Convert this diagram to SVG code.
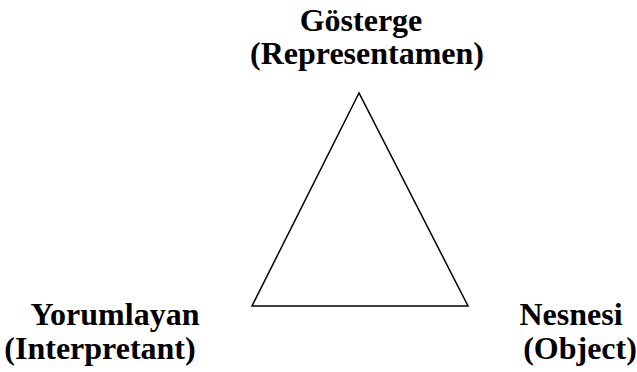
<svg xmlns="http://www.w3.org/2000/svg" width="637" height="372" viewBox="0 0 637 372">
<style>
.t{font-family:"Liberation Serif","Times New Roman",serif;font-weight:bold;font-size:32px;fill:#000}
.edge{fill:none;stroke:#000;stroke-width:1.5;stroke-linejoin:miter}
</style>
<rect width="637" height="372" fill="#fff"/>
<g id="connectors">
<polygon class="edge" points="359,93 252,306 468,306"/>
</g>
<g id="node-gosterge">
<text class="t" x="361" y="31" text-anchor="middle">Gösterge</text>
<text class="t" x="367" y="64" text-anchor="middle">(Representamen)</text>
</g>
<g id="node-yorumlayan">
<text class="t" x="115" y="325" text-anchor="middle">Yorumlayan</text>
<text class="t" x="100" y="359" text-anchor="middle">(Interpretant)</text>
</g>
<g id="node-nesnesi">
<text class="t" x="571" y="325" text-anchor="middle">Nesnesi</text>
<text class="t" x="580" y="359" text-anchor="middle">(Object)</text>
</g>
</svg>
